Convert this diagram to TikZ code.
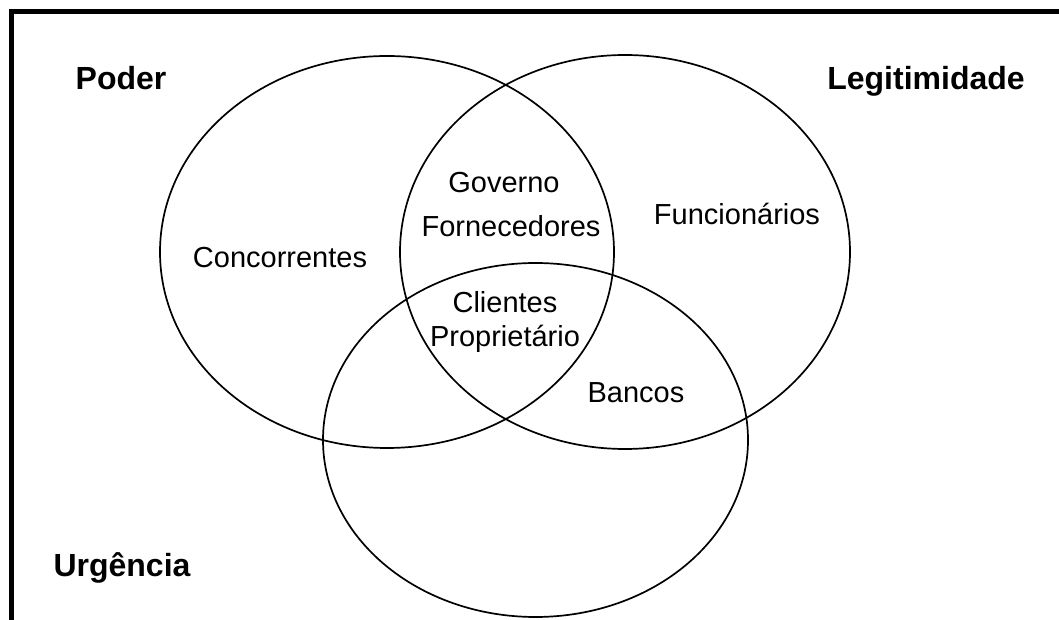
\documentclass[tikz,border=0pt]{standalone}
\usepackage{fontspec}
\setmainfont{Liberation Sans}
\usetikzlibrary{positioning,shapes}

\begin{document}
\begin{tikzpicture}[%
        x=1pt, y=1pt,
        conjunto/.style={%
          ellipse,
          draw,
          inner sep=0pt,
          line width=1.7pt
        },
        titulo/.style={anchor=base, inner sep=0pt, font=\fontsize{32}{36}\selectfont\bfseries},
        membro/.style={anchor=base, inner sep=0pt, font=\fontsize{29}{33}\selectfont},
        moldura/.style={line width=5pt}
      ]
      \useasboundingbox (0,0) rectangle (1059,620);

      % moldura
      \coordinate (cantoA) at (11,-10);
      \coordinate (cantoB) at (1070,608);
      \draw[moldura] (cantoA) |- (cantoB);

      % conjuntos
      \node[conjunto, minimum width=454pt, minimum height=392pt] (poder) at (387,368) {};
      \node[conjunto, minimum width=450pt, minimum height=394pt] (legit) at (625,368) {};
      \node[conjunto, minimum width=425pt, minimum height=354pt] (urg) at (535.5,180) {};

      \node[titulo] (tpoder) at (121,530) {Poder};
      \node[titulo] (tlegit) at (926,530) {Legitimidade};
      \node[titulo] (turg) at (122,43) {Urgência};

      \node[membro] (conc) at (280,352) {Concorrentes};
      \node[membro] (gov) at (504,427) {Governo};
      \node[membro] (forn) at (511,383) {Fornecedores};
      \node[membro] (func) at (737,395) {Funcionários};
      \node[membro] (cli) at (505,307) {Clientes};
      \node[membro] (prop) at (505,273) {Proprietário};
      \node[membro] (banc) at (636,217) {Bancos};

  \end{tikzpicture}
\end{document}
